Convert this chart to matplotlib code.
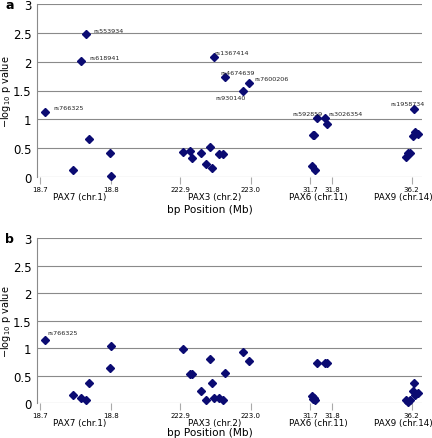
import matplotlib
matplotlib.use("Agg")
import matplotlib.pyplot as plt

# genomic positions (Mb) per region, shared by both panels
regions = ["PAX7", "PAX3", "PAX6", "PAX9"]
region_labels = ["PAX7 (chr.1)", "PAX3 (chr.2)", "PAX6 (chr.11)", "PAX9 (chr.14)"]
pos_pax7 = [18.707, 18.747, 18.758, 18.765, 18.769, 18.799, 18.800]
pos_pax3 = [222.904, 222.914, 222.917, 222.930, 222.936, 222.942, 222.945,
            222.948, 222.955, 222.961, 222.963, 222.989, 222.997]
pos_pax6 = [31.710, 31.713, 31.716, 31.723, 31.732, 31.770, 31.779]
pos_pax9 = [36.175, 36.185, 36.194, 36.205, 36.209, 36.215, 36.227]

# -log10 p values, panel a
a_pax7 = [1.13, 0.12, 2.02, 2.49, 0.66, 0.41, 0.01]
a_pax3 = [0.43, 0.45, 0.32, 0.41, 0.22, 0.52, 0.16, 2.09, 0.39, 0.39, 1.74, 1.50, 1.63]
a_pax6 = [0.19, 0.73, 0.73, 0.11, 1.03, 1.03, 0.91]
a_pax9 = [0.34, 0.42, 0.42, 0.70, 1.18, 0.77, 0.75]

# -log10 p values, panel b
b_pax7 = [1.15, 0.14, 0.10, 0.05, 0.37, 0.64, 1.03]
b_pax3 = [0.99, 0.52, 0.52, 0.21, 0.05, 0.80, 0.36, 0.09, 0.10, 0.05, 0.54, 0.92, 0.77]
b_pax6 = [0.12, 0.08, 0.10, 0.05, 0.73, 0.72, 0.72]
b_pax9 = [0.05, 0.02, 0.05, 0.22, 0.36, 0.15, 0.19]

# region tick positions (Mb)
ticks_pax7 = [18.7, 18.8]
ticks_pax3 = [222.9, 223.0]
ticks_pax6 = [31.7, 31.8]
ticks_pax9 = [36.2]

# labelled SNPs: (region, index, name)
a_snps = [("PAX7", 0, "rs766325"), ("PAX7", 2, "rs618941"), ("PAX7", 3, "rs553934"),
          ("PAX3", 7, "rs1367414"), ("PAX3", 10, "rs4674639"), ("PAX3", 11, "rs930140"),
          ("PAX3", 12, "rs7600206"), ("PAX6", 4, "rs592859"), ("PAX6", 5, "rs3026354"),
          ("PAX9", 4, "rs1958734")]
b_snps = [("PAX7", 0, "rs766325")]

# label placement (offset in points, alignment)
snp_offsets = {
    "rs766325": ((6, 3), "left"), "rs618941": ((6, 2), "left"), "rs553934": ((5, 2), "left"),
    "rs1367414": ((0, 3), "left"), "rs4674639": ((-3, 3), "left"), "rs930140": ((2, -5), "right"),
    "rs7600206": ((4, 3), "left"), "rs592859": ((4, 3), "right"), "rs3026354": ((2, 3), "left"),
    "rs1958734": ((8, 4), "right"),
}
b_offsets = {"rs766325": ((2, 5), "left")}

# broken-axis layout: (reference Mb, plot offset, plot units per Mb)
segments = {"PAX7": (18.7, 40, 710), "PAX3": (222.9, 180, 710),
            "PAX6": (31.7, 310, 220), "PAX9": (36.2, 411.7, 220)}


def to_x(region, mb):
    ref, off, scale = segments[region]
    return [off + (m - ref) * scale for m in mb]


positions = {"PAX7": pos_pax7, "PAX3": pos_pax3, "PAX6": pos_pax6, "PAX9": pos_pax9}
ticks = {"PAX7": ticks_pax7, "PAX3": ticks_pax3, "PAX6": ticks_pax6, "PAX9": ticks_pax9}
panel_a = {"PAX7": a_pax7, "PAX3": a_pax3, "PAX6": a_pax6, "PAX9": a_pax9}
panel_b = {"PAX7": b_pax7, "PAX3": b_pax3, "PAX6": b_pax6, "PAX9": b_pax9}

navy = "#0b0b72"
grey = "#8a8a8a"

fig = plt.figure(figsize=(4.32, 4.39), dpi=100)
ax_a = fig.add_axes([37 / 432, 1 - 177.7 / 439, 385 / 432, 172.4 / 439])
ax_b = fig.add_axes([37 / 432, 1 - 404 / 439, 385 / 432, 164.7 / 439])


def draw(ax, values, snps, offsets, letter, xlab_off):
    for r in regions:
        ax.plot(to_x(r, positions[r]), values[r], "D", color=navy, ms=3.6,
                mec=navy, clip_on=False, zorder=3)
    for r, i, name in snps:
        x = to_x(r, [positions[r][i]])[0]
        (dx, dy), ha = offsets[name]
        ax.annotate(name, (x, values[r][i]), xytext=(dx, dy), textcoords="offset points",
                    fontsize=4.6, ha=ha, va="center", color="#222222")
    ax.set_xlim(37, 422)
    ax.set_ylim(0, 3)
    ax.set_yticks([0, 0.5, 1, 1.5, 2, 2.5, 3])
    ax.set_yticklabels(["0", "0.5", "1", "1.5", "2", "2.5", "3"])
    ax.tick_params(axis="y", length=0, labelsize=8.5, pad=4)
    ax.yaxis.grid(True, color=grey, lw=0.8)
    ax.set_axisbelow(True)
    xt, xl = [], []
    for r in regions:
        xt += to_x(r, ticks[r])
        xl += [f"{t:.1f}" for t in ticks[r]]
    ax.set_xticks(xt)
    ax.set_xticklabels(xl)
    ax.tick_params(axis="x", length=5, color="#aaaaaa", labelsize=5, pad=1.5)
    for s in ["top", "right", "bottom"]:
        ax.spines[s].set_visible(False)
    ax.spines["left"].set_color(grey)
    ax.spines["left"].set_linewidth(0.8)
    centers = [80, 215, 318, 403]
    for c, lab in zip(centers, region_labels):
        ax.annotate(lab, (c, 0), xytext=(0, -14), textcoords="offset points",
                    xycoords=("data", "axes fraction"), ha="center", va="center", fontsize=6.3)
    ax.annotate("bp Position (Mb)", (210, 0), xytext=(0, xlab_off), textcoords="offset points",
                xycoords=("data", "axes fraction"), ha="center", va="center", fontsize=7.6)
    ax.set_ylabel(r"$-$log$_{10}$ p value", fontsize=7.0)
    ax.yaxis.set_label_coords(-0.062, 0.5)
    ax.text(-0.083, 1.0, letter, transform=ax.transAxes, fontsize=9, fontweight="bold",
            ha="left", va="center")


draw(ax_a, panel_a, a_snps, snp_offsets, "a", -23)
draw(ax_b, panel_b, b_snps, b_offsets, "b", -21)

fig.savefig("out.png", dpi=100)
